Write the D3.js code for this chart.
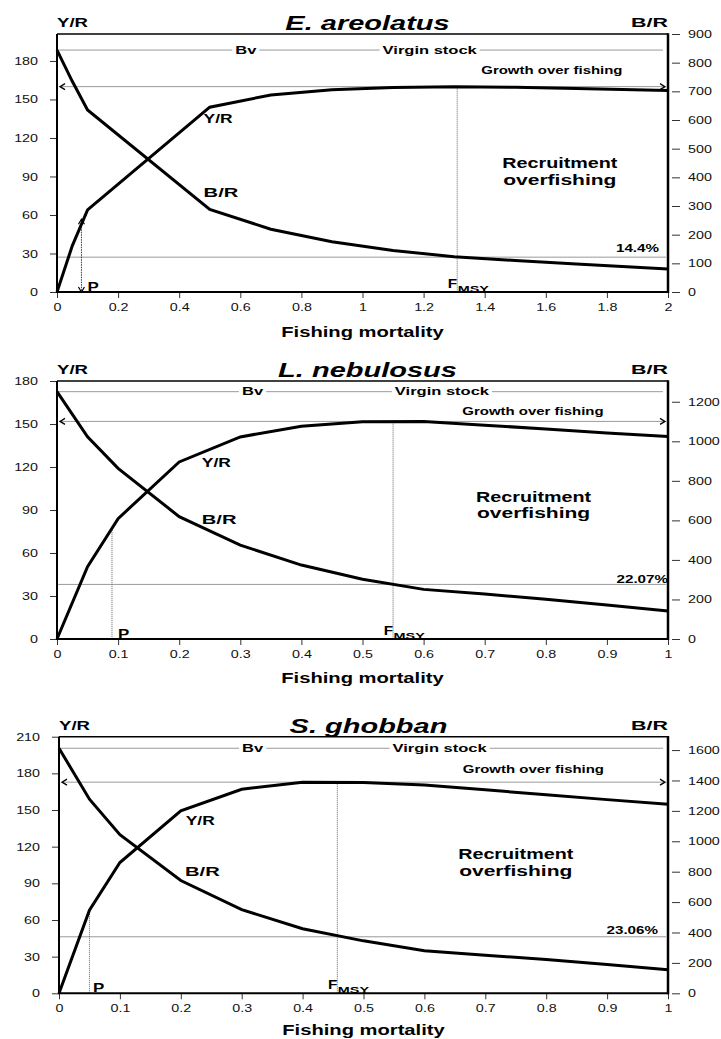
<!DOCTYPE html>
<html><head><meta charset="utf-8">
<script src="https://cdn.jsdelivr.net/npm/d3@7"></script>
<style>body{margin:0;background:#fff} svg{display:block}</style>
</head><body>
<svg id="c" width="721" height="1039"></svg>
<script>
// ---------------- DATA ----------------
const speciesNames = ["E. areolatus", "L. nebulosus", "S. ghobban"];

const F1  = [0, 0.05, 0.1, 0.5, 0.7, 0.9, 1.1, 1.3, 1.5, 1.7, 2.0];
const YR1 = [0, 36, 64, 144, 153.5, 157.5, 159.3, 160, 159.5, 158.5, 157];
const BR1 = [844, 735, 635, 288, 219, 175, 145, 123, 110, 98, 80];

const F2  = [0, 0.05, 0.1, 0.2, 0.3, 0.4, 0.5, 0.6, 0.7, 0.8, 0.9, 1.0];
const YR2 = [0, 50.5, 84, 123.5, 141, 148.5, 151.5, 151.8, 149.2, 146.5, 143.8, 141.2];
const BR2 = [1251, 1023, 863, 619, 475, 374, 302, 251, 228, 201, 172, 142];

const F3  = [0, 0.05, 0.1, 0.2, 0.3, 0.4, 0.5, 0.6, 0.7, 0.8, 0.9, 1.0];
const YR3 = [0, 68, 107, 149.4, 167, 172.8, 172.6, 170.5, 166.5, 162.5, 158.5, 154.7];
const BR3 = [1612, 1277, 1043, 742, 550, 425, 345, 280, 251, 222, 190, 155];

const fmsyValues = [1.31, 0.55, 0.457];
const pValues    = [0.08, 0.09, 0.05];
const pctValues  = [0.144, 0.2207, 0.2306];
const pctLabels  = ["14.4%", "22.07%", "23.06%"];

const xTicks1  = [0, 0.2, 0.4, 0.6, 0.8, 1, 1.2, 1.4, 1.6, 1.8, 2];
const xTicks23 = [0, 0.1, 0.2, 0.3, 0.4, 0.5, 0.6, 0.7, 0.8, 0.9, 1];
const yLTicks1 = [0, 30, 60, 90, 120, 150, 180];
const yLTicks2 = [0, 30, 60, 90, 120, 150, 180];
const yLTicks3 = [0, 30, 60, 90, 120, 150, 180, 210];
const yRTicks1 = [0, 100, 200, 300, 400, 500, 600, 700, 800, 900];
const yRTicks2 = [0, 200, 400, 600, 800, 1000, 1200];
const yRTicks3 = [0, 200, 400, 600, 800, 1000, 1200, 1400, 1600];

// ---------------- LAYOUT ----------------
const layout = [
  {top:34, bottom:292, x0:57, x1:668, xMax:2, yLMax:201, yRMax:900,
   growthDy:-12.5, pctDx:-9, pctDy:-5, pDx:6, pArrows:true, titleDy:45,
   yrLab:[0.48,131.5], brLab:[0.48,74], recr:[1.646,96.5,83],
   bvFrac:0.309, vsFrac:0.61, growthFrac:0.81},
  {top:381, bottom:639, x0:57, x1:668, xMax:1, yLMax:180, yRMax:1305,
   growthDy:-6, pctDx:0, pctDy:-1.5, pDx:6, pArrows:false, titleDy:44,
   yrLab:[0.237,120], brLab:[0.237,80], recr:[0.78,95.8,84.4],
   bvFrac:0.32, vsFrac:0.63, growthFrac:0.779},
  {top:736.7, bottom:993.3, x0:59, x1:668, xMax:1, yLMax:210, yRMax:1688,
   growthDy:-9, pctDx:-10, pctDy:-3, pDx:3.5, pArrows:false, titleDy:41.5,
   yrLab:[0.208,137.7], brLab:[0.207,96], recr:[0.75,109.7,96],
   bvFrac:0.318, vsFrac:0.625, growthFrac:0.779}
];

const panels = [
  {name:speciesNames[0], F:F1, YR:YR1, BR:BR1, xt:xTicks1,  ylt:yLTicks1, yrt:yRTicks1, L:layout[0]},
  {name:speciesNames[1], F:F2, YR:YR2, BR:BR2, xt:xTicks23, ylt:yLTicks2, yrt:yRTicks2, L:layout[1]},
  {name:speciesNames[2], F:F3, YR:YR3, BR:BR3, xt:xTicks23, ylt:yLTicks3, yrt:yRTicks3, L:layout[2]}
];
panels.forEach((p,i)=>{ p.fmsy=fmsyValues[i]; p.p=pValues[i]; p.pct=pctValues[i]; p.pctLab=pctLabels[i]; });

// ---------------- HELPERS ----------------
const FONT = "'Liberation Sans', Arial, Helvetica, sans-serif";
const svg = d3.select('#c');

function stretchText(sel, k){
  sel.each(function(){
    if (k === 1) return;
    const len = this.getComputedTextLength();
    this.setAttribute('textLength', (len*k).toFixed(2));
    this.setAttribute('lengthAdjust', 'spacingAndGlyphs');
  });
}
function label(g, s, x, y, o = {}){
  const t = g.append('text').attr('x', x).attr('y', y).text(s)
    .style('font-family', FONT).style('font-size', (o.size||11) + 'px')
    .style('font-weight', o.bold ? 'bold' : 'normal')
    .style('font-style', o.italic ? 'italic' : 'normal')
    .attr('text-anchor', o.anchor || 'start').attr('fill', o.fill || '#000');
  const natural = t.node().getComputedTextLength();
  stretchText(t, o.k || 1);
  t.width = natural * (o.k || 1);
  return t;
}

// ---------------- DRAW ----------------
panels.forEach(P => {
  const L = P.L;
  const g = svg.append('g');
  const x  = d3.scaleLinear().domain([0, L.xMax]).range([L.x0, L.x1]);
  const yL = d3.scaleLinear().domain([0, L.yLMax]).range([L.bottom, L.top]);
  const yR = d3.scaleLinear().domain([0, L.yRMax]).range([L.bottom, L.top]);
  const yrAt = d3.scaleLinear().domain(P.F).range(P.YR);
  const W = L.x1 - L.x0;

  // Virgin biomass line
  const yBv = yR(P.BR[0]);
  g.append('line').attr('x1', L.x0).attr('x2', L.x1 - 5).attr('y1', yBv).attr('y2', yBv)
    .attr('stroke', '#9a9a9a').attr('stroke-width', 1);
  [['Bv', L.bvFrac], ['Virgin stock', L.vsFrac]].forEach(([s, f]) => {
    const cx = L.x0 + f * W;
    const t = label(g, s, cx, yBv + 3.8, {size:11, bold:true, anchor:'middle', k:1.5});
    g.insert('rect', () => t.node()).attr('x', cx - t.width/2 - 3).attr('y', yBv - 5)
      .attr('width', t.width + 6).attr('height', 10).attr('fill', '#fff');
  });

  // Growth overfishing arrow
  const yG = yL(d3.max(P.YR));
  g.append('line').attr('x1', L.x0 + 3).attr('x2', L.x1 - 3).attr('y1', yG).attr('y2', yG)
    .attr('stroke', '#9a9a9a').attr('stroke-width', 1);
  g.append('path').attr('d', `M${L.x0+8},${yG-3}L${L.x0+3},${yG}L${L.x0+8},${yG+3}`)
    .attr('fill', 'none').attr('stroke', '#000').attr('stroke-width', 1.3);
  g.append('path').attr('d', `M${L.x1-8},${yG-3}L${L.x1-3},${yG}L${L.x1-8},${yG+3}`)
    .attr('fill', 'none').attr('stroke', '#000').attr('stroke-width', 1.3);
  label(g, 'Growth over fishing', L.x0 + L.growthFrac * W, yG + L.growthDy,
    {size:11.5, bold:true, anchor:'middle', k:1.3});

  // percentage line
  const yP = yR(P.pct * P.BR[0]);
  g.append('line').attr('x1', L.x0).attr('x2', L.x1 - 2).attr('y1', yP).attr('y2', yP)
    .attr('stroke', '#9a9a9a').attr('stroke-width', 1);
  label(g, P.pctLab, L.x1 + L.pctDx, yP + L.pctDy, {size:11, bold:true, anchor:'end', k:1.38});

  // FMSY line
  const xF = x(P.fmsy);
  g.append('line').attr('x1', xF).attr('x2', xF).attr('y1', yL(yrAt(P.fmsy))).attr('y2', L.bottom)
    .attr('stroke', '#666').attr('stroke-width', 1).attr('stroke-dasharray', '1,1');
  label(g, 'F', xF, L.bottom - 4, {size:13, bold:true, anchor:'end', k:1.18});
  label(g, 'MSY', xF + 0.5, L.bottom - 0.5, {size:9, bold:true, k:1.6});

  // P line
  const xp = x(P.p);
  const ypTop = yL(yrAt(P.p));
  if (L.pArrows) {
    const tip = ypTop - 5;
    g.append('line').attr('x1', xp).attr('x2', xp).attr('y1', tip).attr('y2', L.bottom)
      .attr('stroke', '#333').attr('stroke-width', 1).attr('stroke-dasharray', '1.5,1');
    g.append('path').attr('d', `M${xp-3},${tip+5}L${xp},${tip}L${xp+3},${tip+5}`)
      .attr('fill', 'none').attr('stroke', '#000').attr('stroke-width', 1.2);
    g.append('path').attr('d', `M${xp-3},${L.bottom-5}L${xp},${L.bottom}L${xp+3},${L.bottom-5}`)
      .attr('fill', 'none').attr('stroke', '#000').attr('stroke-width', 1.2);
  } else {
    g.append('line').attr('x1', xp).attr('x2', xp).attr('y1', ypTop).attr('y2', L.bottom)
      .attr('stroke', '#666').attr('stroke-width', 1).attr('stroke-dasharray', '1,1');
  }
  label(g, 'P', xp + L.pDx, L.bottom - 1.5, {size:13, bold:true, k:1.3});

  // curves
  const lineYR = d3.line().x((d, i) => x(P.F[i])).y(d => yL(d));
  const lineBR = d3.line().x((d, i) => x(P.F[i])).y(d => yR(d));
  g.append('path').datum(P.YR).attr('d', lineYR).attr('fill', 'none')
    .attr('stroke', '#000').attr('stroke-width', 3).attr('stroke-linejoin', 'miter');
  g.append('path').datum(P.BR).attr('d', lineBR).attr('fill', 'none')
    .attr('stroke', '#000').attr('stroke-width', 3).attr('stroke-linejoin', 'miter');

  // curve labels
  label(g, 'Y/R', x(L.yrLab[0]), yL(L.yrLab[1]), {size:13, bold:true, k:1.34});
  label(g, 'B/R', x(L.brLab[0]), yL(L.brLab[1]), {size:13, bold:true, k:1.55});
  label(g, 'Recruitment', x(L.recr[0]), yL(L.recr[1]), {size:14, bold:true, anchor:'middle', k:1.41});
  label(g, 'overfishing', x(L.recr[0]), yL(L.recr[2]), {size:14, bold:true, anchor:'middle', k:1.5});

  // axes
  const ax = g.append('g').attr('transform', `translate(0,${L.bottom})`)
    .call(d3.axisBottom(x).tickValues(P.xt).tickFormat(d => String(d)).tickSize(6).tickSizeOuter(0).tickPadding(5));
  const ayl = g.append('g').attr('transform', `translate(${L.x0},0)`)
    .call(d3.axisLeft(yL).tickValues(P.ylt).tickFormat(d => String(d)).tickSize(7).tickSizeOuter(0).tickPadding(12));
  const ayr = g.append('g').attr('transform', `translate(${L.x1 + 4},0)`)
    .call(d3.axisRight(yR).tickValues(P.yrt).tickFormat(d => String(d)).tickSize(8).tickSizeOuter(0).tickPadding(8));
  [ax, ayl, ayr].forEach(a => {
    a.select('.domain').remove();
    a.selectAll('line').attr('stroke', '#333');
    const tx = a.selectAll('text').style('font-family', FONT).style('font-size', '11px').attr('fill', '#111');
    stretchText(tx, 1.3);
  });

  // frame
  g.append('line').attr('x1', L.x0).attr('x2', L.x1).attr('y1', L.top).attr('y2', L.top)
    .attr('stroke', '#000').attr('stroke-width', 1.5);
  g.append('line').attr('x1', L.x0).attr('x2', L.x1 + 1).attr('y1', L.bottom).attr('y2', L.bottom)
    .attr('stroke', '#000').attr('stroke-width', 2);
  g.append('line').attr('x1', L.x0).attr('x2', L.x0).attr('y1', L.top).attr('y2', L.bottom + 1)
    .attr('stroke', '#000').attr('stroke-width', 2);
  g.append('line').attr('x1', L.x1).attr('x2', L.x1).attr('y1', L.top - 0.75).attr('y2', L.bottom + 1)
    .attr('stroke', '#000').attr('stroke-width', 2.5);

  // headers
  label(g, 'Y/R', L.x0, L.top - 7, {size:13, bold:true, k:1.43});
  label(g, 'B/R', L.x1, L.top - 7, {size:13, bold:true, anchor:'end', k:1.65});
  label(g, P.name, (L.x0 + L.x1) / 2 + 5, L.top - 4, {size:21, bold:true, italic:true, anchor:'middle', k:1.38});
  label(g, 'Fishing mortality', (L.x0 + L.x1) / 2, L.bottom + L.titleDy, {size:14, bold:true, anchor:'middle', k:1.44});
});
</script>
</body></html>
